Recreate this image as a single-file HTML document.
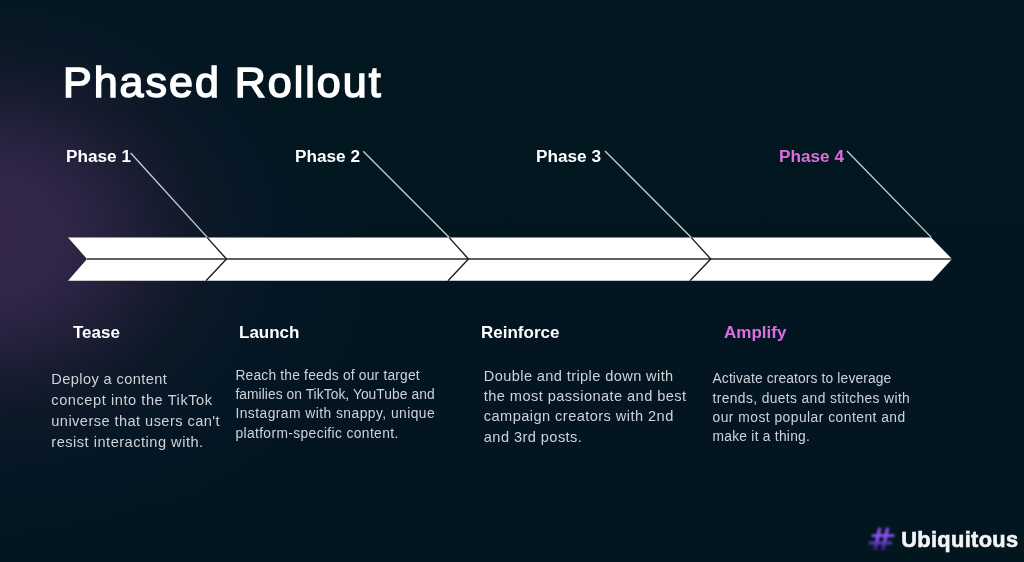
<!DOCTYPE html>
<html lang="en">
<head>
<meta charset="utf-8">
<title>Phased Rollout</title>
<style>
  html, body { margin: 0; padding: 0; }
  body {
    width: 1024px; height: 562px; overflow: hidden; position: relative;
    background: linear-gradient(180deg, #02171f 0%, #021620 40%, #021521 75%, #02161f 100%);
    font-family: "Liberation Sans", sans-serif;
    color: #fff;
  }
  .bg {
    position: absolute; left: 0; top: 0; width: 1024px; height: 562px;
    background:
      radial-gradient(ellipse 282px 232px at -15px 236px, rgb(52,39,75) 0%, rgb(49,38,72) 28%, rgb(37,33,61) 46%, rgb(24,28,48) 62%, rgb(11,24,38) 80%, rgba(6,23,36,0) 100%),
      radial-gradient(ellipse 380px 290px at -15px 250px, rgba(12,26,48,0.9) 0%, rgba(12,26,48,0.75) 55%, rgba(8,24,42,0.4) 78%, rgba(2,21,31,0) 100%);
  }
  .abs { position: absolute; white-space: nowrap; }
  h1 {
    position: absolute; margin: 0; left: 63px; top: 57px;
    font-size: 43px; line-height: 50px; font-weight: 400; letter-spacing: 2px; -webkit-text-stroke: 1.5px #fff;
    white-space: nowrap;
  }
  .phase { font-weight: 700; font-size: 17.2px; line-height: 20px; top: 146px; }
  .sub { font-weight: 700; font-size: 17px; line-height: 20px; top: 323px; }
  .pink { color: #de6ee0; }
  h1, .phase, .sub, .logo { filter: blur(0.35px); }
  .body { color: #cfd3d8; filter: blur(0.5px); }
  .ln { position: absolute; white-space: nowrap; line-height: 20px; }
  svg { position: absolute; left: 0; top: 0; }
  .logo { font-weight: 700; font-size: 21.8px; line-height: 26px; left: 901.2px; top: 527px; color: #f4f4f8; letter-spacing: 0.35px; -webkit-text-stroke: 0.6px #f4f4f8; }
</style>
</head>
<body>
<div class="bg"></div>

<h1>Phased Rollout</h1>

<svg width="1024" height="562" viewBox="0 0 1024 562">
  <!-- arrow band -->
  <polygon points="68,237.4 931,237.4 952,259 932,280.7 68,280.7 87,259" fill="#ffffff"/>
  <!-- centre line -->
  <line x1="87" y1="259" x2="952" y2="259" stroke="#2c2c32" stroke-width="1.3"/>
  <!-- chevron dividers -->
  <polyline points="207,237.4 226.5,259 206,280.7" fill="none" stroke="#1c1c22" stroke-width="1.4"/>
  <polyline points="449,237.4 468.5,259 448,280.7" fill="none" stroke="#1c1c22" stroke-width="1.4"/>
  <polyline points="691,237.4 710.8,259 690,280.7" fill="none" stroke="#1c1c22" stroke-width="1.4"/>
  <!-- leader lines -->
  <line x1="130.7" y1="153" x2="207.3" y2="237.4" stroke="#c9cdd2" stroke-width="1.35"/>
  <line x1="363.2" y1="151.3" x2="449.3" y2="237.4" stroke="#c9cdd2" stroke-width="1.35"/>
  <line x1="605" y1="151" x2="691.3" y2="237.4" stroke="#c9cdd2" stroke-width="1.35"/>
  <line x1="847" y1="151" x2="931.3" y2="237.4" stroke="#c9cdd2" stroke-width="1.35"/>
</svg>

<div class="abs phase" style="left:66px">Phase 1</div>
<div class="abs phase" style="left:295px">Phase 2</div>
<div class="abs phase" style="left:536px">Phase 3</div>
<div class="abs phase pink" style="left:779px">Phase 4</div>

<div class="abs sub" style="left:73px">Tease</div>
<div class="abs sub" style="left:239px">Launch</div>
<div class="abs sub" style="left:481px">Reinforce</div>
<div class="abs sub pink" style="left:724px">Amplify</div>


<div class="body" style="font-size:14.6px">
  <span class="ln" style="left:51.3px; top:369.3px; letter-spacing:0.40px">Deploy a content</span>
  <span class="ln" style="left:51.3px; top:390.2px; letter-spacing:0.56px">concept into the TikTok</span>
  <span class="ln" style="left:51.3px; top:411.3px; letter-spacing:0.44px">universe that users can't</span>
  <span class="ln" style="left:51.3px; top:431.9px; letter-spacing:0.50px">resist interacting with.</span>
</div>
<div class="body" style="font-size:13.8px">
  <span class="ln" style="left:235.4px; top:366.0px; letter-spacing:0.20px">Reach the feeds of our target</span>
  <span class="ln" style="left:235.4px; top:385.1px; letter-spacing:0.06px">families on TikTok, YouTube and</span>
  <span class="ln" style="left:235.4px; top:404.4px; letter-spacing:0.47px">Instagram with snappy, unique</span>
  <span class="ln" style="left:235.4px; top:423.6px; letter-spacing:0.38px">platform-specific content.</span>
</div>
<div class="body" style="font-size:14.6px">
  <span class="ln" style="left:483.8px; top:366.1px; letter-spacing:0.39px">Double and triple down with</span>
  <span class="ln" style="left:483.8px; top:386.1px; letter-spacing:0.43px">the most passionate and best</span>
  <span class="ln" style="left:483.8px; top:405.9px; letter-spacing:0.44px">campaign creators with 2nd</span>
  <span class="ln" style="left:483.8px; top:426.7px; letter-spacing:0.43px">and 3rd posts.</span>
</div>
<div class="body" style="font-size:13.8px">
  <span class="ln" style="left:712.5px; top:369.2px; letter-spacing:0.14px">Activate creators to leverage</span>
  <span class="ln" style="left:712.5px; top:388.5px; letter-spacing:0.39px">trends, duets and stitches with</span>
  <span class="ln" style="left:712.5px; top:407.9px; letter-spacing:0.49px">our most popular content and</span>
  <span class="ln" style="left:712.5px; top:426.6px; letter-spacing:0.25px">make it a thing.</span>
</div>

<svg class="hashsvg" role="img" aria-label="Ubiquitous hashtag logo mark" width="60" height="50" viewBox="850 512 60 50" style="left:850px; top:512px; overflow:visible">
  <defs>
    <linearGradient id="hg" gradientUnits="userSpaceOnUse" x1="0" y1="526" x2="0" y2="552">
      <stop offset="0" stop-color="#6e45cc"/>
      <stop offset="0.28" stop-color="#8a56f0"/>
      <stop offset="0.52" stop-color="#8250ec"/>
      <stop offset="0.70" stop-color="#5333b0"/>
      <stop offset="1" stop-color="#1f1852"/>
    </linearGradient>
  </defs>
  <g stroke="url(#hg)" stroke-width="3.5" fill="none" style="filter:blur(0.95px)">
    <line x1="879.8" y1="527.6" x2="875.0" y2="550.6"/>
    <line x1="887.6" y1="527.6" x2="882.8" y2="550.6"/>
    <line x1="871.8" y1="535.6" x2="894.4" y2="535.6" stroke-width="2.9"/>
    <line x1="868.8" y1="543.1" x2="892.0" y2="543.1" stroke-width="2.9"/>
  </g>
</svg>
<div class="abs logo">Ubiquitous</div>
</body>
</html>
